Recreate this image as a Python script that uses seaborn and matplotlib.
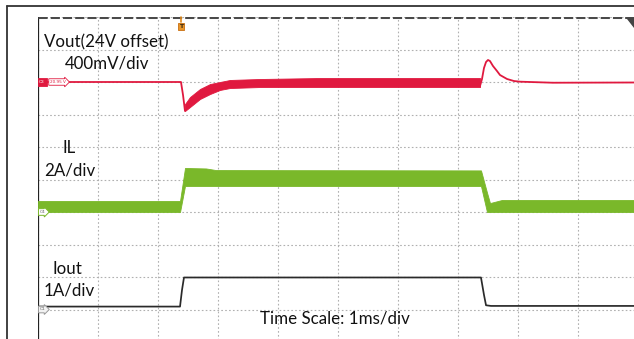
import matplotlib
matplotlib.use("Agg")
import matplotlib.pyplot as plt
from matplotlib.lines import Line2D
from matplotlib.patches import Polygon
import seaborn as sns
import pandas as pd

# ---- scope settings (per-division scales and channel ground positions) ----
TIME_PER_DIV_MS = 1.0
VOUT_MV_PER_DIV, VOUT_ZERO_DIV = 400.0, 8.0
IL_A_PER_DIV, IL_ZERO_DIV = 2.0, 4.0
IOUT_A_PER_DIV, IOUT_ZERO_DIV = 1.0, 1.0
TRIGGER_MS = 2.383

# ---- Vout (deviation from 24 V, mV) ----
vout_pre_t = [0.0, 2.383, 2.417, 2.45]
vout_pre_mv = [0, 0, -160, -357]
vout_band_t = [2.45, 2.533, 2.70, 2.867, 3.033, 3.20, 3.70, 4.70, 7.367]
vout_band_hi = [-271, -185, -86, -25, 0, 25, 37, 49, 49]
vout_band_lo = [-357, -308, -209, -148, -98, -74, -62, -62, -62]
vout_post_t = [7.367, 7.40, 7.433, 7.467, 7.50, 7.533, 7.583, 7.65, 7.70,
               7.817, 7.933, 8.033, 8.583, 10.0]
vout_post_mv = [-49, 37, 172, 246, 271, 258, 197, 135, 86, 37, 12, 4, -9, -6]

# ---- inductor current envelope (A) ----
il_t = [0.0, 2.367, 2.45, 2.80, 2.967, 7.383, 7.483, 7.533, 7.733, 10.0]
il_hi = [0.68, 0.68, 2.71, 2.68, 2.58, 2.56, 1.20, 0.55, 0.74, 0.74]
il_lo = [0.0, 0.0, 1.60, 1.60, 1.60, 1.60, 0.0, 0.0, 0.0, 0.0]

# ---- output current (A) ----
iout_t = [0.0, 2.367, 2.40, 2.433, 7.383, 7.433, 7.467, 7.55, 10.0]
iout_a = [0.09, 0.09, 0.60, 0.985, 0.985, 0.45, 0.13, 0.11, 0.11]

RED = "#e0193f"
GREEN = "#7ab82a"
BLACK = "#2a2a2a"

sns.set_style("white")
plt.rcParams["font.family"] = ["Lato", "DejaVu Sans"]

W, H = 634, 339
fig = plt.figure(figsize=(W / 100, H / 100), dpi=100)
fig.patch.set_facecolor("white")
ax = fig.add_axes([38 / W, -3 / H, 600 / W, 325 / H])
ax.set_xlim(0, 10)
ax.set_ylim(0, 10)


def vdiv(mv):
    return [VOUT_ZERO_DIV + v / VOUT_MV_PER_DIV for v in mv]


def ildiv(a):
    return [IL_ZERO_DIV + v / IL_A_PER_DIV for v in a]


def ioutdiv(a):
    return [IOUT_ZERO_DIV + v / IOUT_A_PER_DIV for v in a]


def tdiv(t):
    return [v / TIME_PER_DIV_MS for v in t]


# graticule
ax.set_xticks(range(11))
ax.set_yticks(range(11))
ax.tick_params(length=0, labelbottom=False, labelleft=False)
ax.grid(True, color="#b0b0b0", linestyle=(0, (1.5, 2.0)), linewidth=0.8)
for s in ax.spines.values():
    s.set_visible(False)
ax.axvline(0, color="#222222", lw=1.6, zorder=1)
ax.axhline(10, color="#4a4a4a", lw=2.2, dashes=(3, 1), zorder=1)

# IL ripple envelope
ax.fill_between(tdiv(il_t), ildiv(il_lo), ildiv(il_hi), color=GREEN, lw=0.6,
                edgecolor=GREEN, zorder=3)

# Vout trace
ax.fill_between(tdiv(vout_band_t), vdiv(vout_band_lo), vdiv(vout_band_hi),
                color=RED, lw=0.6, edgecolor=RED, zorder=3)
pre = pd.DataFrame({"t": tdiv(vout_pre_t), "v": vdiv(vout_pre_mv)})
post = pd.DataFrame({"t": tdiv(vout_post_t), "v": vdiv(vout_post_mv)})
sns.lineplot(data=pre, x="t", y="v", ax=ax, color=RED, lw=1.3, sort=False,
             estimator=None, zorder=4)
sns.lineplot(data=post, x="t", y="v", ax=ax, color=RED, lw=1.3, sort=False,
             estimator=None, zorder=4)

# Iout trace
io = pd.DataFrame({"t": tdiv(iout_t), "a": ioutdiv(iout_a)})
sns.lineplot(data=io, x="t", y="a", ax=ax, color=BLACK, lw=1.25, sort=False,
             estimator=None, zorder=4)
ax.set_xlabel("")
ax.set_ylabel("")

# channel reference markers
ax.text(0.02, VOUT_ZERO_DIV, "C3", fontsize=3.2, color="white", va="center",
        ha="left", zorder=6, family="DejaVu Sans",
        bbox=dict(boxstyle="square,pad=0.35", fc=RED, ec=RED, lw=0.6))
ax.text(0.2, VOUT_ZERO_DIV, "20.95 V", fontsize=3.0, color=RED, va="center",
        ha="left", zorder=6, family="DejaVu Sans",
        bbox=dict(boxstyle="rarrow,pad=0.3", fc="white", ec=RED, lw=0.6))
ax.text(0.03, IL_ZERO_DIV, "C4", fontsize=3.2, color="#666666", va="center",
        ha="left", zorder=6, family="DejaVu Sans",
        bbox=dict(boxstyle="rarrow,pad=0.3", fc="white", ec=GREEN, lw=0.7))
ax.text(0.03, IOUT_ZERO_DIV, "C1", fontsize=3.2, color="#666666", va="center",
        ha="left", zorder=6, family="DejaVu Sans",
        bbox=dict(boxstyle="rarrow,pad=0.3", fc="#f2f2f2", ec="#999999", lw=0.7))

# trigger marker
ax.plot([TRIGGER_MS, TRIGGER_MS], [10, 9.85], color="#e08a1e", lw=1.2,
        zorder=6, clip_on=False)
ax.text(TRIGGER_MS, 9.72, "T", fontsize=4.5, color="#3a2a10", va="center",
        ha="center", zorder=7, family="DejaVu Sans", fontweight="bold",
        bbox=dict(boxstyle="square,pad=0.15", fc="#e8962a", ec="#c86e10", lw=0.6))

# annotations
txt = dict(color="#111111", fontsize=12.2, va="center", zorder=8)


def pxpos(x, y):
    return ((x - 38) / 60, (342 - y) / 32.5)


ax.text(*pxpos(44, 42), "Vout(24V offset)", ha="left", **txt)
ax.text(*pxpos(65, 63.5), "400mV/div", ha="left", **txt)
ax.text(*pxpos(69.5, 148), "IL", ha="center", **txt)
ax.text(*pxpos(44, 171), "2A/div", ha="left", **txt)
ax.text(*pxpos(53, 269), "Iout", ha="left", **txt)
ax.text(*pxpos(44, 291), "1A/div", ha="left", **txt)
ax.text(*pxpos(260, 319), "Time Scale: 1ms/div", ha="left", **txt)

# outer window frame and horizontal-position indicator
fig.add_artist(Line2D([7 / W, 7 / W], [1 - 6 / H, 0], color="#333333", lw=1.3))
fig.add_artist(Line2D([7 / W, 1], [1 - 6 / H, 1 - 6 / H], color="#333333", lw=1.3))
fig.add_artist(Polygon([[627 / W, 1 - 18 / H], [1, 1 - 18 / H], [1, 1 - 27 / H]],
                       closed=True, transform=fig.transFigure, color="#444444"))

fig.savefig("out.png", dpi=100)
